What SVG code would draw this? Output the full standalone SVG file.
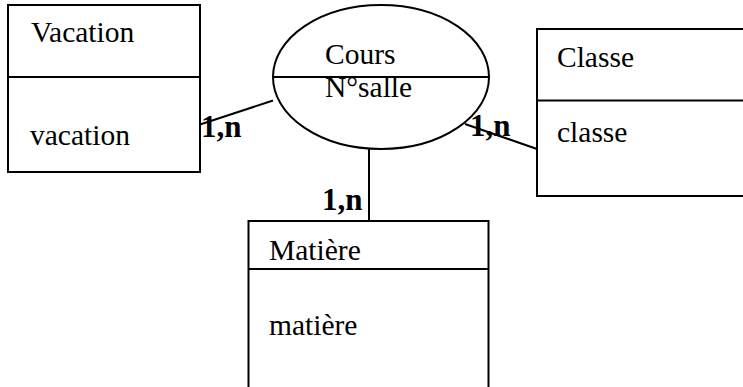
<svg xmlns="http://www.w3.org/2000/svg" width="743" height="387" viewBox="0 0 743 387">
<style>
.box{fill:none;stroke:#000;stroke-width:2}
.ln{stroke:#000;stroke-width:2;fill:none}
.t{font-family:"Liberation Serif","Times New Roman",serif;font-size:29.5px;fill:#000}
.c{font-family:"Liberation Serif","Times New Roman",serif;font-size:31px;font-weight:bold;fill:#000}
</style>
<rect width="743" height="387" fill="#fff"/>
<g id="connectors">
<line class="ln" x1="200" y1="124.5" x2="273" y2="100.5"/>
<line class="ln" x1="465" y1="124" x2="537" y2="149"/>
<line class="ln" x1="369" y1="149" x2="369" y2="221"/>
<text class="c" x="201" y="137">1,n</text>
<text class="c" x="470" y="136">1,n</text>
<text class="c" x="322" y="210">1,n</text>
</g>
<g id="vacation">
<rect class="box" x="8" y="5" width="192" height="167"/>
<line class="ln" x1="8" y1="77" x2="200" y2="77"/>
<text class="t" x="31" y="42">Vacation</text>
<text class="t" x="30" y="145">vacation</text>
</g>
<g id="cours">
<ellipse class="box" cx="381" cy="77" rx="108" ry="72"/>
<line class="ln" x1="273" y1="77" x2="489" y2="77"/>
<text class="t" x="325" y="64">Cours</text>
<text class="t" x="325" y="97">N°salle</text>
</g>
<g id="classe">
<rect class="box" x="537" y="29" width="230" height="167"/>
<line class="ln" x1="537" y1="100.5" x2="767" y2="100.5"/>
<text class="t" x="557" y="67">Classe</text>
<text class="t" x="557" y="142">classe</text>
</g>
<g id="matiere">
<rect class="box" x="248.5" y="221" width="240" height="190"/>
<line class="ln" x1="248.5" y1="269" x2="488.5" y2="269"/>
<text class="t" x="269" y="260">Matière</text>
<text class="t" x="269" y="335">matière</text>
</g>
</svg>
